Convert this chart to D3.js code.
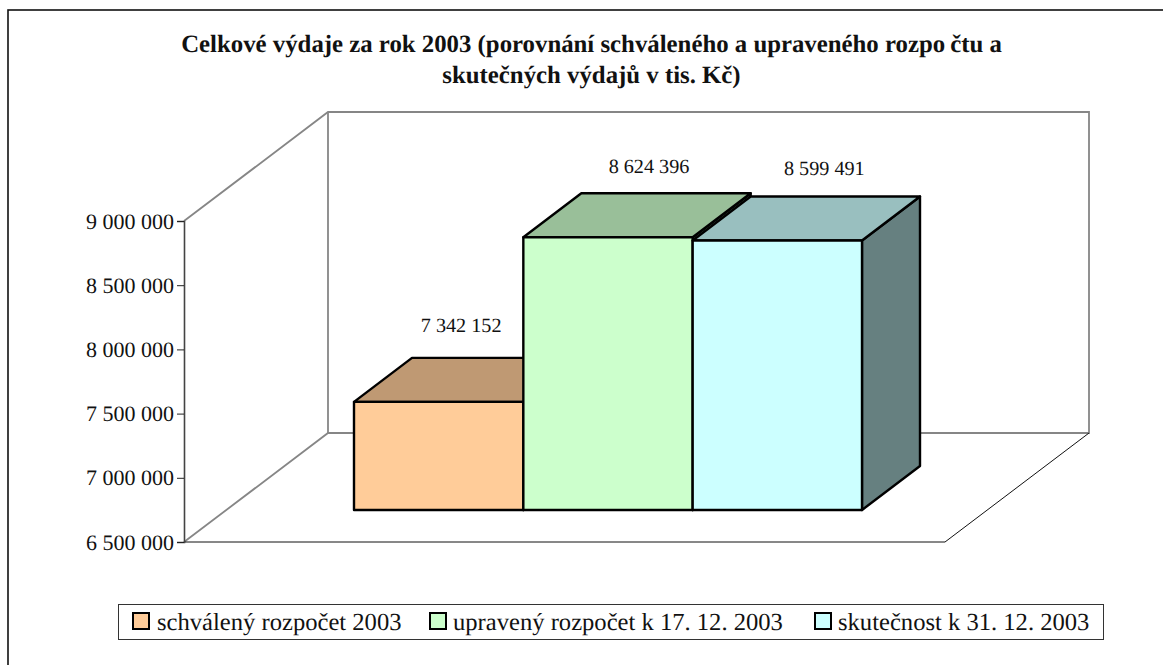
<!DOCTYPE html>
<html>
<head>
<meta charset="utf-8">
<script src="https://cdn.jsdelivr.net/npm/d3@7"></script>
<style>
  html, body { margin: 0; padding: 0; background: #fff; overflow: hidden; }
  svg { display: block; }
  text { font-family: "Liberation Serif", serif; fill: #111; text-rendering: geometricPrecision; }
</style>
</head>
<body>
<svg id="chart" width="1163" height="665"></svg>
<script>
// data
var categories = ['schválený rozpočet 2003', 'upravený rozpočet k 17. 12. 2003', 'skutečnost k 31. 12. 2003']
var values = [7342152, 8624396, 8599491]
var valueLabels = ['7 342 152', '8 624 396', '8 599 491']
var barColors = ['#ffcc99', '#ccffcc', '#ccffff']
var tickValues = [6500000, 7000000, 7500000, 8000000, 8500000, 9000000]
// the original title has a small gap inside "rozpočtu", so the first line comes in two pieces
var titleLines = [['Celkové výdaje za rok 2003 (porovnání schváleného a upraveného rozpo', 'čtu a'], ['skutečných výdajů v tis. Kč)']]

var svg = d3.select('#chart')

// layout
var plotLeft = 184, plotRight = 945, plotTop = 221, plotBottom = 542
var wallDx = 144, wallDy = -109
var barDx = 58, barDy = -44
var barShiftY = -32
var labelDx = [22.5, 41, 47]
var labelDy = [-70, -64, -65]
var legendSwatchX = [133, 430, 815]
var legendTextX = [157, 453, 838]

var y = d3.scaleLinear().domain([6500000, 9000000]).range([plotBottom, plotTop])
var x = d3.scaleBand().domain(categories).range([354, 862]).padding(0)

// Outer frame, its right and bottom edges run off the picture
svg.append('rect')
    .attr('x', 8).attr('y', 10)
    .attr('width', 1200).attr('height', 700)
    .attr('fill', '#fff').attr('stroke', '#111').attr('stroke-width', 1.6)

// Title
var titles = svg.append('g').selectAll('text')
    .data(titleLines)
    .enter().append('text')
    .attr('x', 591.5)
    .attr('y', function (d, i) { return 52 + i * 31 })
    .attr('text-anchor', 'middle')
    .attr('font-size', 24.8)
    .attr('font-weight', 'bold')
titles.selectAll('tspan')
    .data(function (d) { return d })
    .enter().append('tspan')
    .attr('dx', function (d, i) { return i > 0 ? 5 : 0 })
    .text(function (d) { return d })

// Back wall and side wall
var wall = svg.append('g').attr('fill', 'none').attr('stroke', '#868686')
wall.append('path')
    .attr('stroke-width', 1.8)
    .attr('d', d3.line()([
        [plotLeft, plotTop], [plotLeft + wallDx, plotTop + wallDy],
        [plotRight + wallDx, plotTop + wallDy], [plotRight + wallDx, plotBottom + wallDy],
        [plotLeft + wallDx, plotBottom + wallDy], [plotLeft, plotBottom]
    ]))
wall.append('line')
    .attr('stroke-width', 1.8)
    .attr('x1', plotLeft + wallDx).attr('y1', plotTop + wallDy)
    .attr('x2', plotLeft + wallDx).attr('y2', plotBottom + wallDy)

// Floor front edges
svg.append('path')
    .attr('fill', 'none').attr('stroke', '#111').attr('stroke-width', 1)
    .attr('d', d3.line()([
        [plotLeft, plotBottom], [plotRight, plotBottom], [plotRight + wallDx, plotBottom + wallDy]
    ]))

// Y axis
var yAxis = d3.axisLeft(y)
    .tickValues(tickValues)
    .tickSize(7)
    .tickPadding(3)
    .tickFormat(function (d) { return d3.format(',')(d).replace(/,/g, ' ') })

var axisG = svg.append('g')
    .attr('transform', 'translate(' + plotLeft + ',0)')
    .call(yAxis)
axisG.select('.domain').attr('stroke', '#444').attr('stroke-width', 1.6)
axisG.selectAll('.tick line').attr('stroke', '#222')
axisG.selectAll('.tick text')
    .attr('font-family', '"Liberation Serif", serif')
    .attr('font-size', 22)
    .attr('fill', '#111')

// Bars, drawn left to right so each one covers the previous one
var bars = svg.append('g').selectAll('g')
    .data(categories)
    .enter().append('g')
    .attr('stroke', '#000').attr('stroke-width', 2.4).attr('stroke-linejoin', 'round')

bars.each(function (d, i) {
    var g = d3.select(this)
    var x0 = x(d), x1 = x0 + x.bandwidth()
    var top = y(values[i]) + barShiftY, bottom = y(6500000) + barShiftY
    var base = d3.color(barColors[i])

    g.append('path')
        .attr('fill', shade(base, 0.5))
        .attr('d', d3.line()([[x1, top], [x1 + barDx, top + barDy], [x1 + barDx, bottom + barDy], [x1, bottom]]) + 'Z')
    g.append('path')
        .attr('fill', shade(base, 0.75))
        .attr('d', d3.line()([[x0, top], [x0 + barDx, top + barDy], [x1 + barDx, top + barDy], [x1, top]]) + 'Z')
    g.append('rect')
        .attr('x', x0).attr('y', top)
        .attr('width', x1 - x0).attr('height', bottom - top)
        .attr('fill', barColors[i])
})

function shade(c, k) {
    return d3.rgb(c.r * k, c.g * k, c.b * k).formatHex()
}

// Value labels, these were moved by hand in the original so each has its own offset
svg.append('g').selectAll('text')
    .data(valueLabels)
    .enter().append('text')
    .attr('x', function (d, i) { return x(categories[i]) + x.bandwidth() / 2 + labelDx[i] })
    .attr('y', function (d, i) { return y(values[i]) + barShiftY + labelDy[i] })
    .attr('text-anchor', 'middle')
    .attr('font-size', 20.2)
    .text(function (d) { return d })

// Legend
svg.append('rect')
    .attr('x', 118.5).attr('y', 604.5)
    .attr('width', 985).attr('height', 35)
    .attr('fill', '#fff').attr('stroke', '#333').attr('stroke-width', 1)

var legend = svg.append('g').selectAll('g')
    .data(categories)
    .enter().append('g')
legend.append('rect')
    .attr('x', function (d, i) { return legendSwatchX[i] })
    .attr('y', 613)
    .attr('width', 16).attr('height', 16)
    .attr('fill', function (d, i) { return barColors[i] })
    .attr('stroke', '#000').attr('stroke-width', 2)
legend.append('text')
    .attr('x', function (d, i) { return legendTextX[i] })
    .attr('y', 630)
    .attr('font-size', 24.6)
    .text(function (d) { return d })
</script>
</body>
</html>
